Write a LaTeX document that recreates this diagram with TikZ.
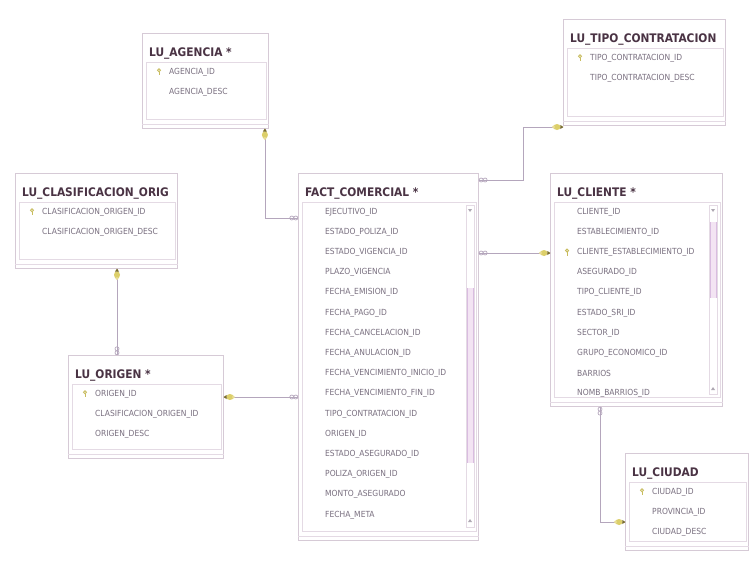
\documentclass[tikz,border=0pt]{standalone}
\usepackage{fontspec}
\setmainfont{DejaVu Sans Condensed}
\definecolor{tblborder}{HTML}{D6CAD6}
\definecolor{listborder}{HTML}{E4DAE4}
\definecolor{ttlcol}{HTML}{4A3344}
\definecolor{rowcol}{HTML}{7A7080}
\definecolor{relcol}{HTML}{B4A6BC}
\definecolor{keyyel}{HTML}{DCCF6A}
\definecolor{keydark}{HTML}{7A6E2E}
\definecolor{thumbcol}{HTML}{F3E4F3}
\definecolor{thumbline}{HTML}{D9BCE0}
\tikzset{
  tblbox/.style={draw=tblborder, line width=0.9pt, fill=white, inner sep=0pt},
  listbox/.style={draw=listborder, line width=0.7pt},
  ttl/.style={font=\bfseries\fontsize{11.8}{13}\selectfont, text=ttlcol, inner sep=0pt},
  rowtxt/.style={font=\fontsize{8.4}{10}\selectfont, text=rowcol, inner sep=0pt, anchor=west},
  rel/.style={draw=relcol, line width=0.8pt},
  pics/pkend/.style={code={
    \fill[keyyel] (-6,0) ellipse (3.6 and 3);
    \fill[keyyel!70!white] (-9.5,0) circle (1.6);
    \fill[keydark] (-2.6,2) -- (0.4,0) -- (-2.6,-2) -- cycle;
  }},
  pics/manyend/.style={code={
    \draw[relcol, line width=0.7pt] (-2.2,0) circle (2) (-6.2,0) circle (2);
  }},
  pics/rowkey/.style={code={
    \draw[keyyel!80!keydark, line width=0.9pt] (0,-1.8) circle (1.5);
    \draw[keyyel!80!keydark, line width=0.9pt] (0,-0.3) -- (0,3.2) (0,2.2) -- (1,2.2);
  }},
}
% table frame: name, x, y, width, height, title
\newcommand\dbtable[6]{%
  \node[tblbox, minimum width=#4pt, minimum height=#5pt, anchor=north west] (#1) at (#2,#3) {};
  \draw[listbox] ([xshift=4pt,yshift=-29pt]#1.north west) rectangle ([xshift=-3pt,yshift=10pt]#1.south east);
  \draw[listbox] ([yshift=5pt]#1.south west) -- ([yshift=5pt]#1.south east);
  \begin{scope}
    \clip ([xshift=1pt]#1.north west) rectangle ([xshift=-2pt]#1.south east);
    \node[ttl, anchor=base west] (#1-t) at ([xshift=7pt,yshift=-23pt]#1.north west) {#6};
  \end{scope}
}
% one column line: table, row number, text
\newcommand\dbrow[3]{%
  \node[rowtxt] (#1-r#2) at ([xshift=27pt,yshift={-39pt-(#2-1)*20.2pt}]#1.north west) {#3};
}
\newcommand\dbkeyrow[1]{%
  \pic at ([xshift=-10pt]#1.west) {rowkey};
}
\begin{document}
\begin{tikzpicture}[x=1pt,y=-1pt]
\fill[white] (0,0) rectangle (751,560);
\useasboundingbox (0,0) rectangle (751,560);

% ---------- tables ----------
\dbtable{agencia}{142}{33}{126}{95}{LU\_AGENCIA *}
\dbrow{agencia}{1}{AGENCIA\_ID}
\dbrow{agencia}{2}{AGENCIA\_DESC}
\dbkeyrow{agencia-r1}

\dbtable{tipo}{563}{19}{162}{106}{LU\_TIPO\_CONTRATACION}
\dbrow{tipo}{1}{TIPO\_CONTRATACION\_ID}
\dbrow{tipo}{2}{TIPO\_CONTRATACION\_DESC}
\dbkeyrow{tipo-r1}

\dbtable{clas}{15}{173}{162}{95}{LU\_CLASIFICACION\_ORIG}
\dbrow{clas}{1}{CLASIFICACION\_ORIGEN\_ID}
\dbrow{clas}{2}{CLASIFICACION\_ORIGEN\_DESC}
\dbkeyrow{clas-r1}

\dbtable{fact}{298}{173}{180}{367}{FACT\_COMERCIAL *}
% scroll bar of the column list
\draw[listbox, fill=white] (466,205) rectangle (474,527);
\fill[thumbcol] (466.5,288) rectangle (473.5,463);
\draw[thumbline, line width=0.6pt] (467,288) -- (467,463) (473,288) -- (473,463);
\fill[rowcol!60] (468,209) -- (472,209) -- (470,212) -- cycle;
\fill[rowcol!60] (468,522) -- (472,522) -- (470,519) -- cycle;
\dbrow{fact}{1}{EJECUTIVO\_ID}
\dbrow{fact}{2}{ESTADO\_POLIZA\_ID}
\dbrow{fact}{3}{ESTADO\_VIGENCIA\_ID}
\dbrow{fact}{4}{PLAZO\_VIGENCIA}
\dbrow{fact}{5}{FECHA\_EMISION\_ID}
\dbrow{fact}{6}{FECHA\_PAGO\_ID}
\dbrow{fact}{7}{FECHA\_CANCELACION\_ID}
\dbrow{fact}{8}{FECHA\_ANULACION\_ID}
\dbrow{fact}{9}{FECHA\_VENCIMIENTO\_INICIO\_ID}
\dbrow{fact}{10}{FECHA\_VENCIMIENTO\_FIN\_ID}
\dbrow{fact}{11}{TIPO\_CONTRATACION\_ID}
\dbrow{fact}{12}{ORIGEN\_ID}
\dbrow{fact}{13}{ESTADO\_ASEGURADO\_ID}
\dbrow{fact}{14}{POLIZA\_ORIGEN\_ID}
\dbrow{fact}{15}{MONTO\_ASEGURADO}
\dbrow{fact}{16}{FECHA\_META}

\dbtable{cliente}{550}{173}{172}{233}{LU\_CLIENTE *}
\draw[listbox, fill=white] (709,205) rectangle (717,394);
\fill[thumbcol] (709.5,222) rectangle (716.5,298);
\draw[thumbline, line width=0.6pt] (710,222) -- (710,298) (716,222) -- (716,298);
\fill[rowcol!60] (711,209) -- (715,209) -- (713,212) -- cycle;
\fill[rowcol!60] (711,390) -- (715,390) -- (713,387) -- cycle;
\dbrow{cliente}{1}{CLIENTE\_ID}
\dbrow{cliente}{2}{ESTABLECIMIENTO\_ID}
\dbrow{cliente}{3}{CLIENTE\_ESTABLECIMIENTO\_ID}
\dbrow{cliente}{4}{ASEGURADO\_ID}
\dbrow{cliente}{5}{TIPO\_CLIENTE\_ID}
\dbrow{cliente}{6}{ESTADO\_SRI\_ID}
\dbrow{cliente}{7}{SECTOR\_ID}
\dbrow{cliente}{8}{GRUPO\_ECONOMICO\_ID}
\dbrow{cliente}{9}{BARRIOS}
\dbrow{cliente}{10}{NOMB\_BARRIOS\_ID}
\dbkeyrow{cliente-r3}

\dbtable{origen}{68}{355}{155}{103}{LU\_ORIGEN *}
\dbrow{origen}{1}{ORIGEN\_ID}
\dbrow{origen}{2}{CLASIFICACION\_ORIGEN\_ID}
\dbrow{origen}{3}{ORIGEN\_DESC}
\dbkeyrow{origen-r1}

\dbtable{ciudad}{625}{453}{123}{97}{LU\_CIUDAD}
\dbrow{ciudad}{1}{CIUDAD\_ID}
\dbrow{ciudad}{2}{PROVINCIA\_ID}
\dbrow{ciudad}{3}{CIUDAD\_DESC}
\dbkeyrow{ciudad-r1}

% ---------- relationships ----------
\coordinate (bendTipo) at (523,127);
\draw[rel] ([xshift=-4pt]agencia.south east) |- (fact.west |- 0,218);
\draw[rel] (fact.east |- 0,180) -| (bendTipo) -- (tipo.south west |- bendTipo);
\draw[rel] (fact.east |- 0,253) -- (cliente.west |- 0,253);
\draw[rel] (fact.west |- 0,397) -- (origen.east |- 0,397);
\draw[rel] (clas.south -| 117,0) -- (origen.north -| 117,0);
\draw[rel] (cliente.south -| 600,0) |- (ciudad.west |- 0,522);

% one-side ends (primary key)
\pic[rotate=90] at ([xshift=-4pt]agencia.south east) {pkend};
\pic at (tipo.south west |- bendTipo) {pkend};
\pic at (cliente.west |- 0,253) {pkend};
\pic[rotate=180] at (origen.east |- 0,397) {pkend};
\pic[rotate=90] at (clas.south -| 117,0) {pkend};
\pic at (ciudad.west |- 0,522) {pkend};

% many-side ends
\pic at (fact.west |- 0,218) {manyend};
\pic[rotate=180] at (fact.east |- 0,180) {manyend};
\pic[rotate=180] at (fact.east |- 0,253) {manyend};
\pic at (fact.west |- 0,397) {manyend};
\pic[rotate=-90] at (origen.north -| 117,0) {manyend};
\pic[rotate=90] at (cliente.south -| 600,0) {manyend};
\end{tikzpicture}
\end{document}
